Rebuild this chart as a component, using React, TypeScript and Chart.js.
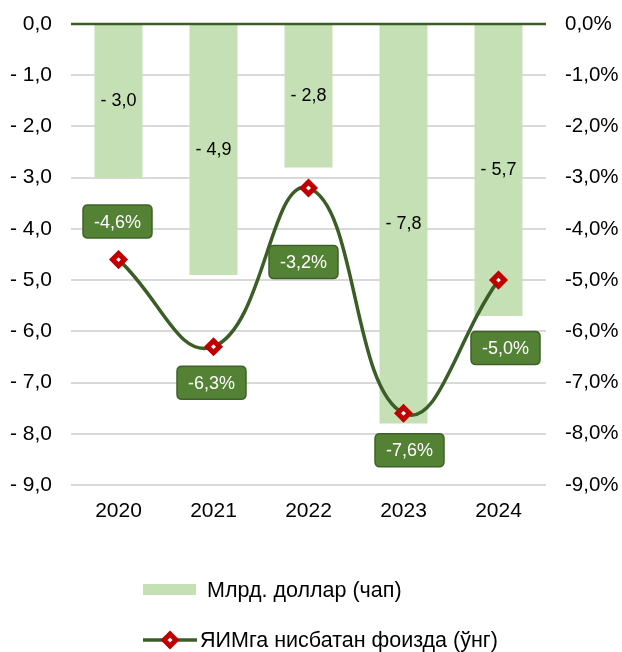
import React, { useEffect, useRef } from "react";
import { Chart, registerables } from "chart.js";

Chart.register(...registerables);

const years = ["2020", "2021", "2022", "2023", "2024"];
const deficitBillionUsd = [-3.0, -4.9, -2.8, -7.8, -5.7];
const deficitPctGdp = [-4.6, -6.3, -3.2, -7.6, -5.0];
const barLegend = "Млрд. доллар (чап)";
const lineLegend = "ЯИМга нисбатан фоизда (ўнг)";
// label placement offsets (dx, dy) of the percent boxes relative to points
const pctLabelOffsets = [
  [-1, -38],
  [-2, 36],
  [-5, 74],
  [6, 37],
  [7, 68],
];

const FONT = "'Liberation Sans', Arial, sans-serif";
const BAR_COLOR = "#C5E0B4";
const LINE_COLOR = "#3B5E27";
const MARKER_COLOR = "#C00000";
const BOX_FILL = "#548235";
const BOX_BORDER = "#3F6129";

const fmtLeft = (v: number) => {
  const s = Math.abs(v).toFixed(1).replace(".", ",");
  return v < 0 ? "- " + s : s;
};
const fmtRight = (v: number) => {
  const s = Math.abs(v).toFixed(1).replace(".", ",") + "%";
  return v < 0 ? "-" + s : s;
};

function roundRect(ctx: CanvasRenderingContext2D, x: number, y: number, w: number, h: number, r: number) {
  ctx.beginPath();
  ctx.moveTo(x + r, y);
  ctx.lineTo(x + w - r, y);
  ctx.quadraticCurveTo(x + w, y, x + w, y + r);
  ctx.lineTo(x + w, y + h - r);
  ctx.quadraticCurveTo(x + w, y + h, x + w - r, y + h);
  ctx.lineTo(x + r, y + h);
  ctx.quadraticCurveTo(x, y + h, x, y + h - r);
  ctx.lineTo(x, y + r);
  ctx.quadraticCurveTo(x, y, x + r, y);
  ctx.closePath();
}

function drawDiamond(ctx: CanvasRenderingContext2D, x: number, y: number, r: number, bw: number) {
  ctx.save();
  ctx.beginPath();
  ctx.moveTo(x, y - r);
  ctx.lineTo(x + r, y);
  ctx.lineTo(x, y + r);
  ctx.lineTo(x - r, y);
  ctx.closePath();
  ctx.fillStyle = "#ffffff";
  ctx.fill();
  ctx.lineWidth = bw;
  ctx.strokeStyle = MARKER_COLOR;
  ctx.stroke();
  ctx.restore();
}

const overlayPlugin = {
  id: "overlay",
  afterDatasetsDraw(chart: any) {
    const ctx: CanvasRenderingContext2D = chart.ctx;
    const area = chart.chartArea;
    const yScale = chart.scales.y;
    const y0 = yScale.getPixelForValue(0);
    ctx.save();
    ctx.strokeStyle = LINE_COLOR;
    ctx.lineWidth = 2.5;
    ctx.beginPath();
    ctx.moveTo(area.left, y0);
    ctx.lineTo(area.right, y0);
    ctx.stroke();

    const barMeta = chart.getDatasetMeta(0);
    ctx.font = `18px ${FONT}`;
    ctx.fillStyle = "#000";
    ctx.textAlign = "center";
    ctx.textBaseline = "middle";
    barMeta.data.forEach((el: any, i: number) => {
      const c = el.getCenterPoint();
      ctx.fillText(fmtLeft(deficitBillionUsd[i]), c.x, c.y);
    });
    ctx.restore();
  },
  afterDraw(chart: any) {
    const ctx: CanvasRenderingContext2D = chart.ctx;
    const lineMeta = chart.getDatasetMeta(1);
    ctx.save();
    ctx.font = `18px ${FONT}`;
    ctx.textAlign = "center";
    ctx.textBaseline = "middle";
    lineMeta.data.forEach((el: any, i: number) => {
      const [dx, dy] = pctLabelOffsets[i];
      const cx = el.x + dx;
      const cy = el.y + dy;
      const w = 69;
      const h = 33;
      roundRect(ctx, cx - w / 2, cy - h / 2, w, h, 5);
      ctx.fillStyle = BOX_FILL;
      ctx.fill();
      ctx.lineWidth = 1.5;
      ctx.strokeStyle = BOX_BORDER;
      ctx.stroke();
      ctx.fillStyle = "#ffffff";
      ctx.fillText(fmtRight(deficitPctGdp[i]), cx, cy + 1);
    });

    // legend
    ctx.font = `21.5px ${FONT}`;
    ctx.textAlign = "left";
    ctx.fillStyle = BAR_COLOR;
    ctx.fillRect(143, 584, 53, 11);
    ctx.fillStyle = "#000";
    ctx.fillText(barLegend, 207, 591);

    ctx.strokeStyle = LINE_COLOR;
    ctx.lineWidth = 3.5;
    ctx.beginPath();
    ctx.moveTo(143, 640);
    ctx.lineTo(197, 640);
    ctx.stroke();
    drawDiamond(ctx, 170, 640, 6, 5);
    ctx.fillStyle = "#000";
    ctx.fillText(lineLegend, 200, 641);
    ctx.restore();
  },
};

const fixVertical = (width: number) => (s: any) => {
  s.width = width;
  s.paddingTop = 10;
  s.paddingBottom = 10;
};

export default function App() {
  const ref = useRef<HTMLCanvasElement | null>(null);

  useEffect(() => {
    if (!ref.current) return;
    const chart = new Chart(ref.current, {
      type: "bar",
      data: {
        labels: years,
        datasets: [
          {
            type: "bar",
            label: barLegend,
            data: deficitBillionUsd,
            backgroundColor: BAR_COLOR,
            borderWidth: 0,
            categoryPercentage: 1,
            barPercentage: 0.505,
            yAxisID: "y",
            order: 1,
          },
          {
            type: "line",
            label: lineLegend,
            data: deficitPctGdp,
            borderColor: LINE_COLOR,
            borderWidth: 3.5,
            tension: 0.45,
            pointStyle: "rectRot",
            pointRadius: 6,
            pointBorderWidth: 5,
            pointBackgroundColor: "#ffffff",
            pointBorderColor: MARKER_COLOR,
            yAxisID: "y1",
            order: 0,
          } as any,
        ],
      },
      options: {
        responsive: false,
        animation: false,
        layout: { padding: { top: 24, left: 0, right: 0, bottom: 122 } },
        plugins: {
          legend: { display: false },
          tooltip: { enabled: false },
        },
        scales: {
          x: {
            grid: { display: false, drawTicks: false },
            border: { display: false },
            ticks: { color: "#000", font: { family: FONT, size: 21 }, padding: 14 },
            afterFit: (s: any) => {
              s.height = 45;
            },
          },
          y: {
            position: "left",
            min: -9,
            max: 0,
            ticks: {
              stepSize: 1,
              color: "#000",
              padding: 19,
              font: { family: FONT, size: 21 },
              callback: (v: any) => fmtLeft(Number(v)),
            },
            grid: { color: "#D9D9D9", lineWidth: 2, drawTicks: false },
            border: { display: false },
            afterFit: fixVertical(71),
          },
          y1: {
            position: "right",
            min: -9,
            max: 0,
            ticks: {
              stepSize: 1,
              color: "#000",
              padding: 19,
              font: { family: FONT, size: 20.5 },
              callback: (v: any) => fmtRight(Number(v)),
            },
            grid: { display: false, drawTicks: false },
            border: { display: false },
            afterFit: fixVertical(76),
          },
        },
      },
      plugins: [overlayPlugin],
    });
    return () => chart.destroy();
  }, []);

  return (
    <div style={{ position: "absolute", left: 0, top: 0, width: 622, height: 652, background: "#fff" }}>
      <canvas ref={ref} width={622} height={652} />
    </div>
  );
}
